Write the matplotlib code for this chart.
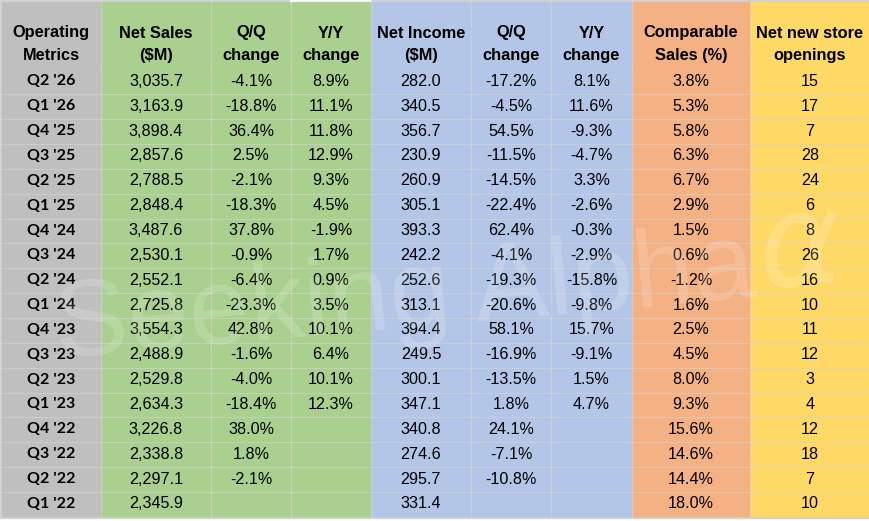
import matplotlib.pyplot as plt
from matplotlib.patches import Rectangle

# ---- table data ----
quarters = ["Q2 '26", "Q1 '26", "Q4 '25", "Q3 '25", "Q2 '25", "Q1 '25",
            "Q4 '24", "Q3 '24", "Q2 '24", "Q1 '24", "Q4 '23", "Q3 '23",
            "Q2 '23", "Q1 '23", "Q4 '22", "Q3 '22", "Q2 '22", "Q1 '22"]
net_sales = ["3,035.7", "3,163.9", "3,898.4", "2,857.6", "2,788.5", "2,848.4",
             "3,487.6", "2,530.1", "2,552.1", "2,725.8", "3,554.3", "2,488.9",
             "2,529.8", "2,634.3", "3,226.8", "2,338.8", "2,297.1", "2,345.9"]
sales_qq = ["-4.1%", "-18.8%", "36.4%", "2.5%", "-2.1%", "-18.3%", "37.8%", "-0.9%",
            "-6.4%", "-23.3%", "42.8%", "-1.6%", "-4.0%", "-18.4%", "38.0%", "1.8%",
            "-2.1%", ""]
sales_yy = ["8.9%", "11.1%", "11.8%", "12.9%", "9.3%", "4.5%", "-1.9%", "1.7%",
            "0.9%", "3.5%", "10.1%", "6.4%", "10.1%", "12.3%", "", "", "", ""]
net_income = ["282.0", "340.5", "356.7", "230.9", "260.9", "305.1", "393.3", "242.2",
              "252.6", "313.1", "394.4", "249.5", "300.1", "347.1", "340.8", "274.6",
              "295.7", "331.4"]
inc_qq = ["-17.2%", "-4.5%", "54.5%", "-11.5%", "-14.5%", "-22.4%", "62.4%", "-4.1%",
          "-19.3%", "-20.6%", "58.1%", "-16.9%", "-13.5%", "1.8%", "24.1%", "-7.1%",
          "-10.8%", ""]
inc_yy = ["8.1%", "11.6%", "-9.3%", "-4.7%", "3.3%", "-2.6%", "-0.3%", "-2.9%",
          "-15.8%", "-9.8%", "15.7%", "-9.1%", "1.5%", "4.7%", "", "", "", ""]
comp_sales = ["3.8%", "5.3%", "5.8%", "6.3%", "6.7%", "2.9%", "1.5%", "0.6%", "-1.2%",
              "1.6%", "2.5%", "4.5%", "8.0%", "9.3%", "15.6%", "14.6%", "14.4%", "18.0%"]
new_stores = ["15", "17", "7", "28", "24", "6", "8", "26", "16", "10", "11", "12",
              "3", "4", "12", "18", "7", "10"]

headers = [("Operating", "Metrics"), ("Net Sales", "($M)"), ("Q/Q", "change"),
           ("Y/Y", "change"), ("Net Income", "($M)"), ("Q/Q", "change"),
           ("Y/Y", "change"), ("Comparable", "Sales (%)"), ("Net new store", "openings")]
columns = [quarters, net_sales, sales_qq, sales_yy, net_income, inc_qq, inc_yy,
           comp_sales, new_stores]

# ---- layout (pixels) ----
col_edges = [0, 100, 210, 290, 370, 470, 550, 631, 749, 869]
col_colors = ['#bfbfbf', '#a9d08e', '#a9d08e', '#a9d08e', '#b4c6e7', '#b4c6e7',
              '#b4c6e7', '#f4b183', '#ffd966']
grid_c = '#d3d3d3'
gap = 2
head_top, head_bot = 0, 69.5
row_h = 24.85

fig = plt.figure(figsize=(8.7, 5.21), dpi=100)
ax = fig.add_axes([0, 0, 1, 1])
ax.set_xlim(0, 870)
ax.set_ylim(521, 0)
ax.axis('off')

ax.add_patch(Rectangle((0, 0), 869, head_bot + row_h * len(quarters) + 1,
                       color=grid_c, zorder=0))
ax.add_patch(Rectangle((290, 0), 80, 1.5, color='white', zorder=1))

for j, col in enumerate(columns):
    x0 = col_edges[j] + gap
    x1 = col_edges[j + 1]
    xc = (x0 + x1) / 2
    # header
    ax.add_patch(Rectangle((x0, head_top + gap), x1 - x0, head_bot - head_top - gap,
                           color=col_colors[j], zorder=1))
    ax.text(xc, 33, headers[j][0], ha='center', va='center', fontsize=11.8,
            fontweight='bold', family='Liberation Sans', zorder=3)
    ax.text(xc, 55.5, headers[j][1], ha='center', va='center', fontsize=11.8,
            fontweight='bold', family='Liberation Sans', zorder=3)
    # body
    for i, val in enumerate(col):
        y0 = head_bot + i * row_h + gap / 2
        ax.add_patch(Rectangle((x0, y0), x1 - x0, row_h - gap,
                               color=col_colors[j], zorder=1))
        if j == 0:
            ax.text(xc, y0 + row_h / 2 - 1.5, val, ha='center', va='center',
                    fontsize=11.5, fontweight='bold', family='Lato', zorder=3)
        else:
            ax.text(xc, y0 + row_h / 2 - 1.5, val, ha='center', va='center',
                    fontsize=11.6, family='Liberation Sans', color='black', zorder=3)

# watermark
ax.text(405, 300, "Seeking Alpha", ha='center', va='center', fontsize=79,
        family='Liberation Sans', color='white', alpha=0.17, rotation=5, zorder=5)
ax.text(800, 248, "\u03b1", ha='center', va='center', fontsize=92, style='italic',
        family='DejaVu Sans', color='white', alpha=0.17, rotation=5, zorder=5)

plt.savefig('out.png', dpi=100)
